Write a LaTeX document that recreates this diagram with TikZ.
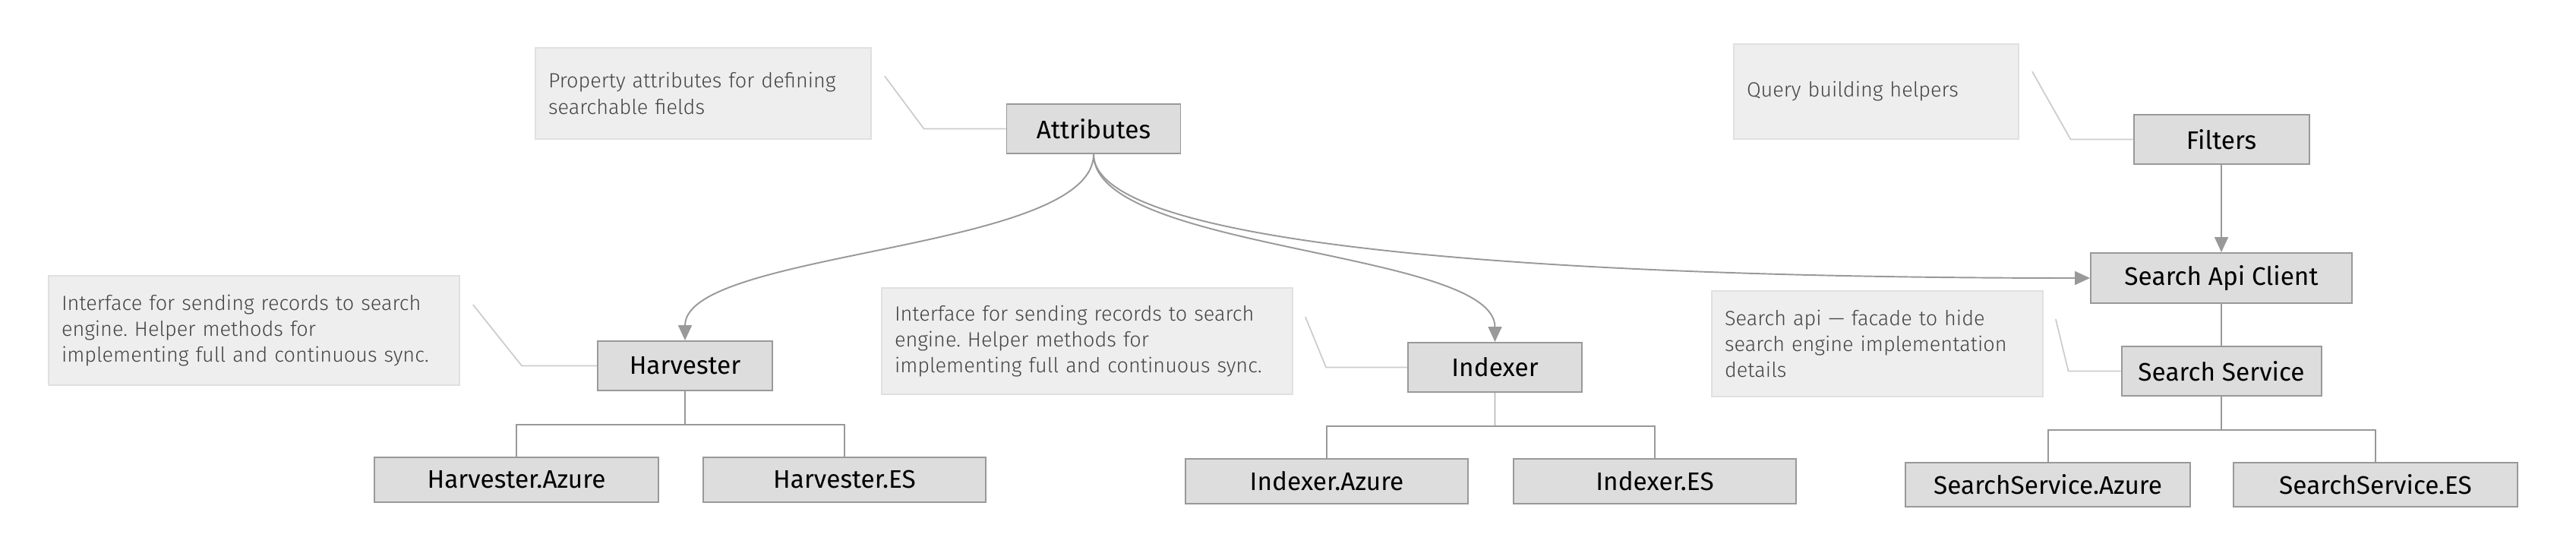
\documentclass[tikz,border=0pt]{standalone}
\usepackage{fontspec}
\setmainfont{Fira Sans}
\newfontfamily\notefont{Fira Sans Light}
\usetikzlibrary{positioning,arrows.meta,calc}
\definecolor{boxC}{HTML}{DDDDDD}
\definecolor{boxlineC}{HTML}{999999}
\definecolor{noteC}{HTML}{EEEEEE}
\definecolor{notelineC}{HTML}{E0E0E0}
\definecolor{notetextC}{HTML}{444444}
\definecolor{leaderC}{HTML}{CCCCCC}
\definecolor{linkC}{HTML}{999999}
\frenchspacing

\begin{document}
\begin{tikzpicture}[
  >={Triangle[length=2mm, width=1.8mm]},
  every node/.style={font=\fontsize{9.5}{11}\selectfont, text=black},
  modbox/.style={draw=boxlineC, fill=boxC, line width=0.55pt,
                 minimum width=#1, minimum height=0.65cm, inner sep=0pt},
  leafbox/.style={modbox=#1, minimum height=0.59cm},
  notebox/.style 2 args={draw=notelineC, fill=noteC, line width=0.5pt,
                 text width=#1, minimum height=#2, inner xsep=0.17cm,
                 align=left, text=notetextC,
                 font=\notefont\fontsize{7.7}{9.7}\selectfont},
  link/.style={draw=linkC, line width=0.55pt},
  leader/.style={draw=leaderC, line width=0.5pt},
]
\useasboundingbox (0,0) rectangle (33.92,-7.2);

% ── Attributes ──
\node[modbox=2.29cm] (attr) at (14.40,-1.695) {Attributes};
\node[notebox={4.08cm}{1.20cm}] (attrnote) at (9.26,-1.23)
  {Property attributes for defining\\searchable fields};

% ── Harvester ──
\node[modbox=2.30cm] (harv) at (9.02,-4.815) {Harvester};
\node[leafbox=3.74cm] (harvaz) at (6.80,-6.315) {Harvester.Azure};
\node[leafbox=3.72cm] (harves) at (11.12,-6.315) {Harvester.ES};
\node[notebox={5.07cm}{1.44cm}] (harvnote) at (3.345,-4.35)
  {Interface for sending records to search\\engine. Helper methods for\\implementing full and continuous sync.};

% ── Indexer ──
\node[modbox=2.29cm] (idx) at (19.685,-4.835) {Indexer};
\node[leafbox=3.72cm] (idxaz) at (17.47,-6.335) {Indexer.Azure};
\node[leafbox=3.72cm] (idxes) at (21.79,-6.335) {Indexer.ES};
\node[notebox={5.07cm}{1.40cm}] (idxnote) at (14.315,-4.49)
  {Interface for sending records to search\\engine. Helper methods for\\implementing full and continuous sync.};

% ── Search side ──
\node[modbox=2.31cm] (filt) at (29.25,-1.835) {Filters};
\node[notebox={3.41cm}{1.25cm}] (qnote) at (24.705,-1.205)
  {Query building helpers};
\node[modbox=3.44cm, minimum height=0.66cm] (sac) at (29.25,-3.66) {Search Api Client};
\node[modbox=2.63cm] (ss) at (29.25,-4.885) {Search Service};
\node[leafbox=3.75cm, minimum height=0.58cm] (ssaz) at (26.965,-6.38) {SearchService.Azure};
\node[leafbox=3.74cm, minimum height=0.58cm] (sses) at (31.28,-6.38) {SearchService.ES};
\node[notebox={4.02cm}{1.39cm}] (ssnote) at (24.72,-4.525)
  {Search api — facade to hide\\search engine implementation\\details};

% ── Note leaders ──
\draw[leader] ([xshift=0.17cm, yshift=-0.38cm]attrnote.north east)
  -- ($(attr.west)+(-1.08,0)$) -- (attr.west);
\draw[leader] ([xshift=0.17cm, yshift=-0.39cm]harvnote.north east)
  -- ($(harv.west)+(-0.99,0)$) -- (harv.west);
\draw[leader] ([xshift=0.16cm, yshift=-0.39cm]idxnote.north east)
  -- ($(idx.west)+(-1.07,0)$) -- (idx.west);
\draw[leader] ([xshift=0.17cm, yshift=-0.37cm]qnote.north east)
  -- ($(filt.west)+(-0.82,0)$) -- (filt.west);
\draw[leader] ([xshift=0.16cm, yshift=-0.38cm]ssnote.north east)
  -- ($(ss.west)+(-0.69,0)$) -- (ss.west);

% ── Uses: Attributes ──
\draw[->, link] (attr.south) .. controls +(0,-1.28) and +(0,1.19) .. (harv.north);
\draw[->, link] (attr.south) .. controls +(0,-1.28) and +(0,1.21) .. (idx.north);
\draw[->, link] (attr.south) .. controls +(0,-1.28) and +(-6.5,0) .. (sac.west);

% ── Search chain ──
\draw[->, link] (filt) -- (sac);
\draw[link] (sac) -- (ss);

% ── Implementations ──
\draw[link] (harv.south) -- ++(0,-0.44) coordinate (hjoin)
  -| (harvaz.north) (hjoin) -| (harves.north);
\draw[link] (idx.south) -- ++(0,-0.44) coordinate (ijoin)
  -| (idxaz.north) (ijoin) -| (idxes.north);
\draw[link] (ss.south) -- ++(0,-0.44) coordinate (sjoin)
  -| (ssaz.north) (sjoin) -| (sses.north);

\end{tikzpicture}
\end{document}
